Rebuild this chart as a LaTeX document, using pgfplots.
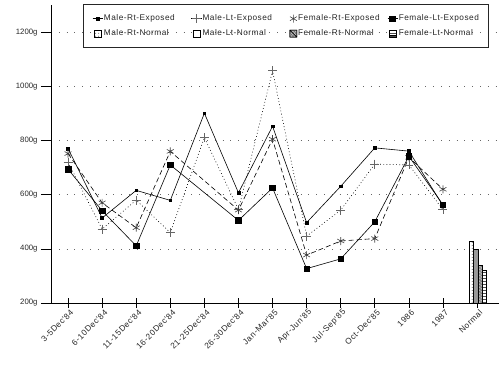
\documentclass[border=0pt]{standalone}
\usepackage{fontspec}
\setmainfont{Liberation Sans}
\newfontfamily\legfont[LetterSpace=6]{Liberation Sans}
\usepackage{pgfplots}
\pgfplotsset{compat=1.18}
\usetikzlibrary{patterns}
\pgfplotsset{
  lineleg/.style={legend image code/.code={\draw[##1, mark repeat=2, mark phase=2] plot coordinates {(0bp,0bp) (5bp,0bp) (10bp,0bp)};}},
  markleg/.style={legend image code/.code={\draw[##1] plot coordinates {(5bp,0bp)};}},
  boxleg/.style={legend image code/.code={\draw[##1] (1.5bp,-3.5bp) rectangle (8.5bp,3.5bp);}},
}
\begin{document}
\begin{tikzpicture}
\begin{axis}[
  at={(51bp,65bp)}, anchor=south west,
  scale only axis, width=448.2bp, height=297.8bp,
  xmin=-0.5, xmax=12.65, ymin=200, ymax=1300,
  axis x line*=bottom, axis y line*=left,
  axis line style={-, black, line width=0.8bp},
  xtick={0,...,12},
  xticklabels={3-5Dec'84,6-10Dec'84,11-15Dec'84,16-20Dec'84,21-25Dec'84,26-30Dec'84,Jan-Mar'85,Apr-Jun'85,Jul-Sep'85,Oct-Dec'85,1986,1987,Normal},
  ytick={200,400,...,1200},
  yticklabels={200g,400g,600g,800g,1000g,1200g},
  xtick align=center, ytick align=outside,
  major tick length=10bp,
  tick style={black, line width=0.7bp},
  xticklabel style={rotate=45, anchor=east, font=\legfont\fontsize{8.3}{9}\selectfont, text=black!85, xshift=4bp, yshift=-5bp},
  yticklabel style={font=\fontsize{7.8}{9}\selectfont, text=black!85},
  ymajorgrids,
  major grid style={black!60, line width=0.6bp, dash pattern=on 0.8bp off 7bp},
  clip=true,
  legend columns=4,
  legend style={at={(axis description cs:0.0714,1.004)}, anchor=north west,
    fill=none, draw=black!85, line width=0.8bp, inner xsep=9bp, inner ysep=9.5bp,
    font=\legfont\fontsize{8.3}{9.6}\selectfont, text=black!85, row sep=5.5bp,
    nodes={inner sep=1bp}},
]
% Male-Rt-Exposed
\addplot[black, line width=0.6bp, mark=square*, mark size=1.4bp, mark options={solid}, lineleg]
  coordinates {(0,771) (1,514) (2,616) (3,579) (4,901) (5,607) (6,853) (7,497) (8,631) (9,773) (10,761) (11,560)};
\addlegendentry{\makebox[86bp][l]{Male-Rt-Exposed}}
% Male-Lt-Exposed
\addplot[black, line width=0.6bp, dash pattern=on 0.8bp off 2.4bp, mark=+, mark size=4.5bp, mark options={solid, black!60}, lineleg]
  coordinates {(0,720) (1,473) (2,580) (3,460) (4,811) (5,545) (6,1058) (7,447) (8,543) (9,713) (10,710) (11,545)};
\addlegendentry{\makebox[86bp][l]{Male-Lt-Exposed}}
% Female-Rt-Exposed
\addplot[black, line width=0.6bp, dash pattern=on 5bp off 3bp, mark=asterisk, mark size=4bp, mark options={solid, black!75}, markleg]
  coordinates {(0,752) (1,570) (2,478) (3,760) (5,543) (6,805) (7,377) (8,429) (9,438) (10,738) (11,620)};
\addlegendentry{\makebox[88bp][l]{Female-Rt-Exposed}}
% Female-Lt-Exposed
\addplot[black, line width=0.6bp, mark=square*, mark size=2.8bp, mark options={solid}, lineleg]
  coordinates {(0,694) (1,541) (2,411) (3,710) (5,505) (6,625) (7,327) (8,363) (9,500) (10,742) (11,563)};
\addlegendentry{\makebox[80bp][l]{Female-Lt-Exposed}}
% Normal bars
\addplot[ybar, bar width=4.4bp, bar shift=0pt, draw=black, line width=0.6bp, fill=white,
  postaction={pattern=dots, pattern color=black!70}, boxleg]
  coordinates {(11.83,428)};
\addlegendentry{\makebox[86bp][l]{Male-Rt-Normal}}
\addplot[ybar, bar width=4.4bp, bar shift=0pt, draw=black, line width=0.6bp, fill=black!40,
  legend image code/.code={\draw[draw=black, line width=0.6bp, fill=white] (1.5bp,-3.5bp) rectangle (8.5bp,3.5bp);}]
  coordinates {(11.96,398)};
\addlegendentry{\makebox[86bp][l]{Male-Lt-Normal}}
\addplot[ybar, bar width=4.4bp, bar shift=0pt, draw=black, line width=0.6bp, fill=black!25,
  postaction={pattern=crosshatch, pattern color=black!55},
  legend image code/.code={\draw[draw=black, line width=0.6bp] (1.5bp,-3.5bp) rectangle (8.5bp,3.5bp) (1.5bp,3.5bp) -- (8.5bp,-3.5bp);}]
  coordinates {(12.09,339)};
\addlegendentry{\makebox[88bp][l]{Female-Rt-Normal}}
\addplot[ybar, bar width=4.4bp, bar shift=0pt, draw=black, line width=0.6bp, fill=white,
  postaction={pattern=horizontal lines, pattern color=black!70},
  legend image code/.code={\draw[draw=black, line width=0.6bp] (1.5bp,-3.5bp) rectangle (8.5bp,3.5bp) (1.5bp,-1.5bp) -- (8.5bp,-1.5bp);}]
  coordinates {(12.22,322)};
\addlegendentry{\makebox[80bp][l]{Female-Lt-Normal}}
\end{axis}
\pgfresetboundingbox
\path (0,0) rectangle (500bp,368bp);
\end{tikzpicture}
\end{document}
